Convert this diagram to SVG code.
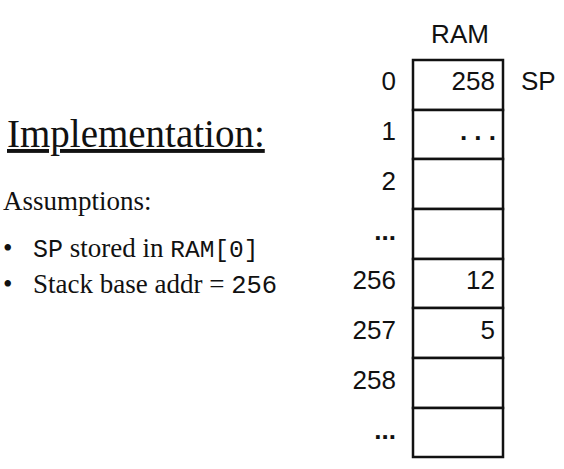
<svg xmlns="http://www.w3.org/2000/svg" width="564" height="469" viewBox="0 0 564 469">
  <style>
    .serif { font-family: "Liberation Serif", "Times New Roman", serif; fill: #111; }
    .mono { font-family: "Liberation Mono", "DejaVu Sans Mono", monospace; }
    .sans { font-family: "Liberation Sans", Arial, sans-serif; font-size: 26px; fill: #111; }
    .addr { text-anchor: end; }
    .val { text-anchor: end; }
    .cell { fill: #fff; stroke: #111; stroke-width: 2.5; }
    .dots { font-weight: bold; }
  </style>
  <rect width="564" height="469" fill="#fff"/>

  <!-- Left: implementation notes -->
  <g id="notes">
    <text class="serif" x="7" y="147" font-size="39" text-decoration="underline">Implementation:</text>
    <text class="serif" x="3" y="210" font-size="27">Assumptions:</text>
    <text class="serif" x="3" y="257" font-size="27">•</text>
    <text class="serif" x="33" y="257" font-size="27"><tspan class="mono" font-size="25">SP</tspan> stored in <tspan class="mono" font-size="24.5">RAM[0]</tspan></text>
    <text class="serif" x="3" y="293" font-size="27">•</text>
    <text class="serif" x="33" y="293" font-size="27">Stack base addr = <tspan class="mono" font-size="25.5">256</tspan></text>
  </g>

  <!-- RAM column -->
  <g id="ram-title">
    <text class="sans" x="460" y="43" text-anchor="middle">RAM</text>
  </g>

  <g id="ram-0">
    <rect class="cell" x="413" y="60" width="90" height="50"/>
    <text class="sans addr" x="396" y="90">0</text>
    <text class="sans val" x="495" y="90">258</text>
    <text class="sans" x="521" y="90">SP</text>
  </g>
  <g id="ram-1">
    <rect class="cell" x="413" y="110" width="90" height="49"/>
    <text class="sans addr" x="396" y="140">1</text>
    <text class="sans val dots" x="496" y="140">. . .</text>
  </g>
  <g id="ram-2">
    <rect class="cell" x="413" y="159" width="90" height="50"/>
    <text class="sans addr" x="396" y="190">2</text>
  </g>
  <g id="ram-gap-1">
    <rect class="cell" x="413" y="209" width="90" height="50"/>
    <text class="sans addr dots" x="396" y="240">...</text>
  </g>
  <g id="ram-256">
    <rect class="cell" x="413" y="259" width="90" height="49"/>
    <text class="sans addr" x="396" y="289">256</text>
    <text class="sans val" x="495" y="289">12</text>
  </g>
  <g id="ram-257">
    <rect class="cell" x="413" y="308" width="90" height="50"/>
    <text class="sans addr" x="396" y="339">257</text>
    <text class="sans val" x="495" y="339">5</text>
  </g>
  <g id="ram-258">
    <rect class="cell" x="413" y="358" width="90" height="50"/>
    <text class="sans addr" x="396" y="389">258</text>
  </g>
  <g id="ram-gap-2">
    <rect class="cell" x="413" y="408" width="90" height="49"/>
    <text class="sans addr dots" x="396" y="439">...</text>
  </g>
</svg>
